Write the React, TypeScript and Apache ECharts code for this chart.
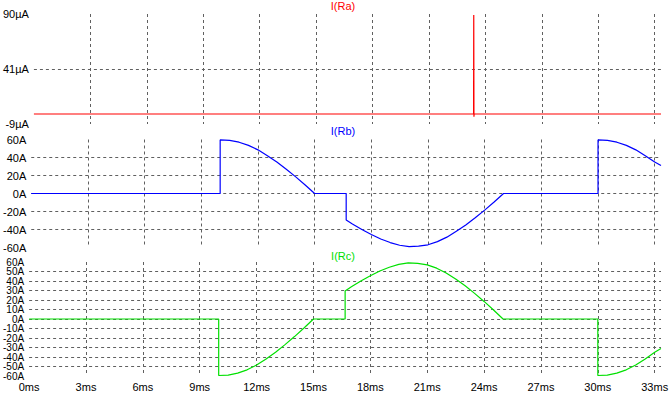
import React, { useEffect, useRef } from "react";
import * as echarts from "echarts";

// time axis (ms)
const T_END = 33.333;

// I(Ra) in µA
const raTime = [0, 23.37, 23.38, 23.39, 23.4, 33.333];
const raValue = [0, 0, 89, -2.5, 0, 0];
const raTickLabels = ["-9µA", "41µA", "90µA"];
const RA_MIN = -9;
const RA_MAX = 90;

// I(Rb) in A
const rbTime = [
  0, 10, 10, 10.5, 11, 11.5, 12, 12.5, 13, 13.5, 14, 14.5, 15,
  16.67, 16.67, 17, 17.5, 18, 18.5, 19, 19.5, 20, 20.5, 21, 21.5, 22, 22.5, 23, 23.5, 24, 24.5, 25,
  30, 30, 30.5, 31, 31.5, 32, 32.5, 33, 33.333,
];
const rbValue = [
  0, 0, 59.5, 59, 57, 53.5, 48.5, 42, 35, 27, 18.5, 9.5, 0,
  0, -29.5, -34, -40, -45.5, -50.5, -54.5, -57.5, -59, -58.5, -57, -53.5, -48.5, -42, -35, -27, -18.5, -9.5, 0,
  0, 59.5, 59, 57, 53.5, 48.5, 42, 35, 31,
];

// I(Rc) in A
const rcTime = [
  0, 10, 10, 10.5, 11, 11.5, 12, 12.5, 13, 13.5, 14, 14.5, 15,
  16.67, 16.67, 17, 17.5, 18, 18.5, 19, 19.5, 20, 20.5, 21, 21.5, 22, 22.5, 23, 23.5, 24, 24.5, 25,
  30, 30, 30.5, 31, 31.5, 32, 32.5, 33, 33.333,
];
const rcValue = [
  0, 0, -59.5, -59, -57, -53.5, -48.5, -42, -35, -27, -18.5, -9.5, 0,
  0, 29.5, 34, 40, 45.5, 50.5, 54.5, 57.5, 59, 58.5, 57, 53.5, 48.5, 42, 35, 27, 18.5, 9.5, 0,
  0, -59.5, -59, -57, -53.5, -48.5, -42, -35, -31,
];

const titles = ["I(Ra)", "I(Rb)", "I(Rc)"];
const colors = ["#ff0000", "#0000ff", "#00e000"];

const FONT = "Liberation Sans, Arial, sans-serif";

export default function App() {
  const ref = useRef<HTMLDivElement>(null);

  useEffect(() => {
    if (!ref.current) return;
    const chart = echarts.init(ref.current, undefined, { renderer: "svg" });

    const raOffset = -RA_MIN; // shift so the axis starts at a multiple of its interval
    const raSpan = RA_MAX - RA_MIN;
    const raData = raTime.map((t, i) => [t, raValue[i] + raOffset]);
    const rbData = rbTime.map((t, i) => [t, rbValue[i]]);
    const rcData = rcTime.map((t, i) => [t, rcValue[i]]);

    const gridLine = {
      show: true,
      showMinLine: false,
      showMaxLine: false,
      lineStyle: { color: "#606060", type: [3, 3], width: 1 },
    };
    const labelStyle = { color: "#000", fontSize: 11, fontFamily: FONT };

    const grids = [
      { left: 28, width: 633, top: 14, height: 110 },
      { left: 28, width: 633, top: 139.5, height: 108 },
      { left: 28, width: 633, top: 262, height: 114 },
    ];

    const xAxes = [0, 1, 2].map((i) => ({
      type: "value",
      gridIndex: i,
      min: 0,
      max: T_END,
      interval: 3,
      axisLine: { show: false },
      axisTick: { show: false },
      splitLine: gridLine,
      axisLabel: {
        show: i === 2,
        ...labelStyle,
        margin: 5,
        showMaxLabel: false,
        formatter: (v: number) => `${v}ms`,
      },
    }));

    const yCommon = {
      type: "value",
      axisLine: { show: false },
      axisTick: { show: false },
      splitLine: gridLine,
    };

    const yAxes = [
      {
        ...yCommon,
        gridIndex: 0,
        min: 0,
        max: raSpan,
        interval: raSpan / 2,
        axisLabel: {
          ...labelStyle,
          margin: 5,
          showMinLabel: true,
          showMaxLabel: true,
          formatter: (v: number) => raTickLabels[Math.round(v / (raSpan / 2))] ?? "",
        },
      },
      {
        ...yCommon,
        gridIndex: 1,
        min: -60,
        max: 60,
        interval: 20,
        axisLabel: {
          ...labelStyle,
          margin: 5,
          showMinLabel: true,
          showMaxLabel: true,
          formatter: (v: number) => `${v}A`,
        },
      },
      {
        // inner ticks of pane 3 (-50 .. 50)
        ...yCommon,
        gridIndex: 2,
        min: -60,
        max: 60,
        interval: 10,
        axisLabel: {
          ...labelStyle,
          fontSize: 10,
          margin: 5,
          showMinLabel: false,
          showMaxLabel: false,
          formatter: (v: number) => `${v}A`,
        },
      },
      {
        // end ticks of pane 3 (-60, 60)
        type: "value",
        gridIndex: 2,
        position: "left",
        offset: 0,
        min: -60,
        max: 60,
        interval: 60,
        axisLine: { show: false },
        axisTick: { show: false },
        splitLine: { show: false },
        axisLabel: {
          ...labelStyle,
          fontSize: 10,
          margin: 5,
          showMinLabel: true,
          showMaxLabel: true,
          formatter: (v: number) => (v === 0 ? "" : `${v}A`),
        },
      },
    ];

    const datas = [raData, rbData, rcData];
    const series = datas.map((d, i) => ({
      type: "line",
      xAxisIndex: i,
      yAxisIndex: i,
      data: d,
      showSymbol: false,
      symbol: "none",
      lineStyle: { color: colors[i], width: 1.2 },
      itemStyle: { color: colors[i] },
      clip: true,
      z: 3,
    }));

    const titleY = [6, 131, 256];
    const graphic = titles.map((t, i) => ({
      type: "text",
      x: 343,
      y: titleY[i],
      style: {
        text: t,
        fill: colors[i],
        font: `11px ${FONT}`,
        align: "center",
        verticalAlign: "middle",
      },
    }));

    chart.setOption({
      animation: false,
      backgroundColor: "#ffffff",
      grid: grids,
      xAxis: xAxes,
      yAxis: yAxes,
      series,
      graphic,
    } as any);

    return () => chart.dispose();
  }, []);

  return (
    <div
      ref={ref}
      style={{ position: "fixed", left: 0, top: 0, width: 672, height: 393, background: "#fff" }}
    />
  );
}
